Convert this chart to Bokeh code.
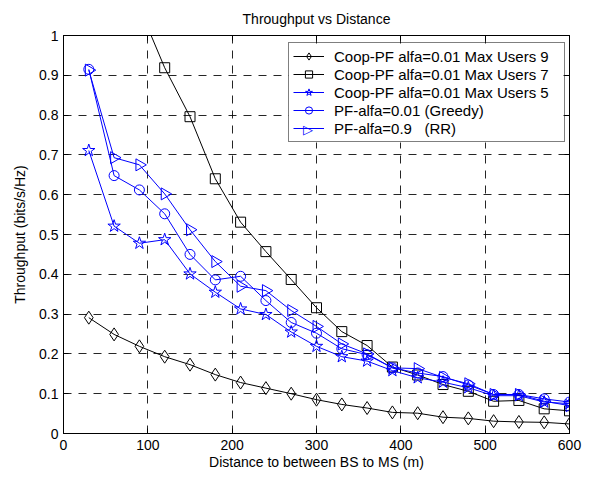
import numpy as np
from bokeh.plotting import figure
from bokeh.models import (Range1d, LinearAxis, FixedTicker, Legend, LegendItem, Label,
                          BoxAnnotation)
from bokeh.embed import file_html
from bokeh.resources import INLINE

# ---- data ----
distance = [30, 60, 90, 120, 150, 180, 210, 240, 270, 300,
            330, 360, 390, 420, 450, 480, 510, 540, 570, 600]
coop_users9 = [0.291, 0.249, 0.219, 0.193, 0.173, 0.148, 0.128, 0.114, 0.100, 0.085,
               0.073, 0.064, 0.053, 0.051, 0.041, 0.038, 0.031, 0.029, 0.028, 0.024]
coop_users7 = [1.45, 1.25, 1.07, 0.919, 0.796, 0.640, 0.531, 0.457, 0.387, 0.316,
               0.256, 0.221, 0.167, 0.147, 0.123, 0.106, 0.081, 0.083, 0.062, 0.057]
coop_users5 = [0.711, 0.521, 0.478, 0.487, 0.401, 0.355, 0.313, 0.299, 0.255, 0.219,
               0.193, 0.182, 0.158, 0.140, 0.129, 0.115, 0.095, 0.095, 0.079, 0.075]
pf_greedy = [0.915, 0.648, 0.612, 0.552, 0.450, 0.386, 0.395, 0.334, 0.279, 0.252,
             0.213, 0.198, 0.165, 0.152, 0.143, 0.122, 0.098, 0.098, 0.087, 0.079]
pf_rr = [0.913, 0.693, 0.675, 0.602, 0.512, 0.432, 0.370, 0.359, 0.309, 0.269,
         0.225, 0.200, 0.165, 0.163, 0.141, 0.125, 0.098, 0.098, 0.081, 0.070]

labels = ["Coop-PF alfa=0.01 Max Users 9", "Coop-PF alfa=0.01 Max Users 7",
          "Coop-PF alfa=0.01 Max Users 5", "PF-alfa=0.01 (Greedy)", "PF-alfa=0.9   (RR)"]

x_ticks = [0, 100, 200, 300, 400, 500, 600]
y_ticks = [0, 0.1, 0.2, 0.3, 0.4, 0.5, 0.6, 0.7, 0.8, 0.9, 1]
y_tick_labels = ["0", "0.1", "0.2", "0.3", "0.4", "0.5", "0.6", "0.7", "0.8", "0.9", "1"]

FONT = "Liberation Sans"
BLUE = "#0000FF"

p = figure(frame_width=506, frame_height=398,
           x_range=Range1d(0, 600), y_range=Range1d(0, 1),
           output_backend="svg", toolbar_location=None,
           title="Throughput vs Distance",
           min_border_left=63, min_border_top=35, min_border_right=25, min_border_bottom=43)

p.title.align = "center"
p.title.text_font = FONT
p.title.text_font_size = "14px"
p.title.text_font_style = "normal"
p.title.text_color = "black"
p.title.standoff = 17

p.outline_line_color = "black"
p.outline_line_width = 1
p.outline_line_alpha = 1

for ax in (p.xaxis[0], p.yaxis[0]):
    ax.major_tick_in = 5
    ax.major_tick_out = 0
    ax.minor_tick_line_color = None
    ax.axis_line_color = "black"
    ax.major_tick_line_color = "black"
    ax.major_label_text_font = FONT
    ax.major_label_text_font_size = "14px"
    ax.major_label_text_color = "black"
    ax.axis_label_text_font = FONT
    ax.axis_label_text_font_size = "14px"
    ax.axis_label_text_font_style = "normal"
    ax.axis_label_text_color = "black"

p.xaxis[0].ticker = FixedTicker(ticks=x_ticks)
p.yaxis[0].ticker = FixedTicker(ticks=y_ticks)
p.yaxis[0].major_label_overrides = dict(zip(y_ticks, y_tick_labels))
p.xaxis[0].axis_label = "Distance to between BS to MS (m)"
p.yaxis[0].axis_label = "Throughput (bits/s/Hz)"
p.xaxis[0].major_label_standoff = 6
p.xaxis[0].axis_label_standoff = 1
p.yaxis[0].major_label_standoff = 5
p.yaxis[0].axis_label_standoff = 8

for loc, ticks in (("right", y_ticks), ("above", x_ticks)):
    ax = LinearAxis(ticker=FixedTicker(ticks=ticks))
    ax.major_tick_in = 5
    ax.major_tick_out = 0
    ax.minor_tick_line_color = None
    ax.major_label_text_font_size = "1px"
    ax.major_label_text_color = None
    ax.major_label_standoff = 0
    ax.axis_line_color = "black"
    ax.major_tick_line_color = "black"
    p.add_layout(ax, loc)

for g in (p.xgrid[0], p.ygrid[0]):
    g.grid_line_color = "black"
    g.grid_line_dash = "8 7"
    g.grid_line_width = 1
    g.grid_line_alpha = 0.85
p.xgrid[0].ticker = FixedTicker(ticks=x_ticks)
p.ygrid[0].ticker = FixedTicker(ticks=y_ticks)

series = [
    (coop_users9, "black", "diamond", 13, 0),
    (coop_users7, "black", "square", 10, 0),
    (coop_users5, BLUE, "star", 13, 0),
    (pf_greedy, BLUE, "circle", 10, 0),
    (pf_rr, BLUE, "triangle", 12, -np.pi / 2),
]
items = []
for label, (ys, color, marker, size, ang) in zip(labels, series):
    ln = p.line(distance, ys, line_color=color, line_width=1)
    sc = p.scatter(distance, ys, marker=marker, size=size, angle=ang,
                   line_color=color, fill_alpha=0, line_width=1)
    # legend glyphs ignore marker angle, so the right-pointing marker is added as text
    items.append(LegendItem(label=label, renderers=[ln] if ang else [ln, sc]))

# legend bottom-left corner, in pixels from the frame's bottom-left corner
LEG_X, LEG_Y, PAD, ITEM_H, GLYPH_W, LABEL_W, STANDOFF = 225, 291, 4, 18, 31, 226, 10
LEG_W = 2 * PAD + GLYPH_W + STANDOFF + LABEL_W
LEG_H = 2 * PAD + len(labels) * ITEM_H

# white backing for the legend (legend itself is transparent so the marker text shows)
p.add_layout(BoxAnnotation(left=LEG_X, right=LEG_X + LEG_W, bottom=LEG_Y, top=LEG_Y + LEG_H,
                           left_units="screen", right_units="screen",
                           bottom_units="screen", top_units="screen",
                           fill_color="white", fill_alpha=1, line_color=None,
                           level="annotation"))

lg = Legend(items=items, location=(LEG_X, LEG_Y))
lg.padding = PAD
lg.margin = 0
lg.spacing = 0
lg.border_line_color = "black"
lg.border_line_width = 1
lg.background_fill_alpha = 0
lg.label_text_font = FONT
lg.label_text_font_size = "15px"
lg.label_text_color = "black"
lg.glyph_width = GLYPH_W
lg.glyph_height = ITEM_H
lg.label_height = ITEM_H
lg.label_width = LABEL_W
lg.label_standoff = STANDOFF
p.add_layout(lg, "center")

idx = 4
tri = Label(x=LEG_X + PAD + GLYPH_W / 2,
            y=LEG_Y + PAD + (len(labels) - 1 - idx) * ITEM_H + ITEM_H / 2,
            x_units="screen", y_units="screen", text="\u25B7",
            text_align="center", text_baseline="middle",
            text_font="DejaVu Sans", text_font_size="13px", text_color=BLUE)
p.add_layout(tri)

open("out.html", "w").write(file_html(p, INLINE))
